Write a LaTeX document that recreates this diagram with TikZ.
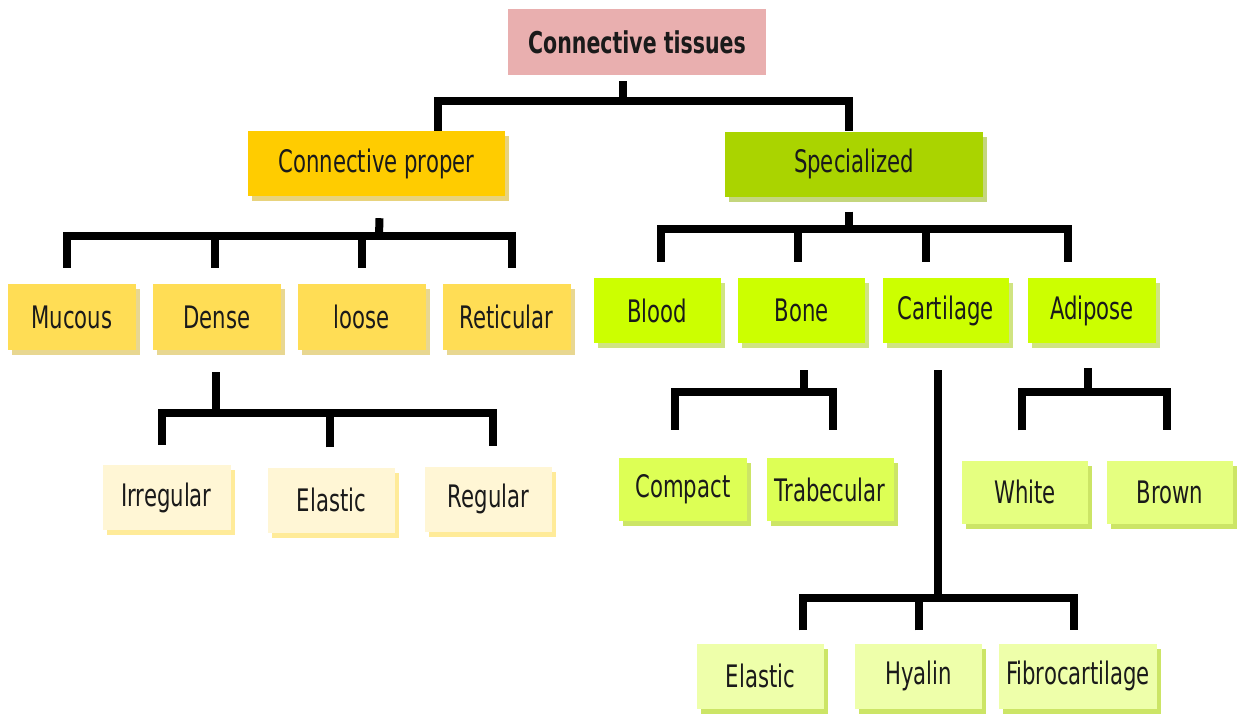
\documentclass[tikz,border=0pt]{standalone}
\usepackage{fontspec}
\setmainfont{DejaVu Sans Condensed}[FakeStretch=0.76]
\usetikzlibrary{shadows}
\definecolor{txt}{HTML}{1A1A1A}
\definecolor{rootc}{HTML}{E9AFAF}
\definecolor{lOne}{HTML}{FFCC00}
\definecolor{rOne}{HTML}{AAD400}
\definecolor{lTwo}{HTML}{FFDD55}
\definecolor{rTwo}{HTML}{CCFF00}
\definecolor{lThree}{HTML}{FFF6D5}
\definecolor{boneC}{HTML}{DDFF55}
\definecolor{adipC}{HTML}{E5FF80}
\definecolor{cartC}{HTML}{EEFFAA}
\tikzset{
  box/.style={rectangle, inner sep=0pt, text=txt, font=\fontsize{31}{36}\selectfont},
  shd/.style={general shadow={fill=#1, shadow xshift=4pt, shadow yshift=-5pt, opacity=0.6}},
  conn/.style={line width=8pt, draw=black, line join=miter, line cap=butt},
}
\begin{document}
\begin{tikzpicture}[x=1pt, y=-1pt]
\useasboundingbox (0,0) rectangle (1237,716);
% root
\node[box, fill=rootc, minimum width=258pt, minimum height=66pt, font=\fontsize{30}{36}\selectfont\bfseries] (root) at (637,42) {Connective tissues};
% level 1
\node[box, fill=lOne, shd=lOne!70!gray, minimum width=257pt, minimum height=65pt] (cp) at (376.5,163.5) {Connective proper};
\node[box, fill=rOne, shd=rOne!70!gray, minimum width=258pt, minimum height=65pt] (sp) at (854,164) {Specialized};
% level 2 left
\node[box, fill=lTwo, shd=lTwo!85!black, minimum width=128pt, minimum height=66pt] (mucous) at (72,317) {Mucous};
\node[box, fill=lTwo, shd=lTwo!85!black, minimum width=128pt, minimum height=66pt] (dense) at (217,317) {Dense};
\node[box, fill=lTwo, shd=lTwo!85!black, minimum width=128pt, minimum height=66pt] (loose) at (361.5,317) {loose};
\node[box, fill=lTwo, shd=lTwo!85!black, minimum width=128pt, minimum height=66pt] (reticular) at (506.5,317) {Reticular};
% level 2 right
\node[box, fill=rTwo, shd=rTwo!65!gray, minimum width=127pt, minimum height=65pt] (blood) at (657,310.5) {Blood};
\node[box, fill=rTwo, shd=rTwo!65!gray, minimum width=127pt, minimum height=65pt] (bone) at (801.5,310.5) {Bone};
\node[box, fill=rTwo, shd=rTwo!65!gray, minimum width=126pt, minimum height=65pt] (cartilage) at (945.5,310.5) {Cartilage};
\node[box, fill=rTwo, shd=rTwo!65!gray, minimum width=128pt, minimum height=65pt] (adipose) at (1092,310.5) {Adipose};
% level 3 dense
\node[box, fill=lThree, shd=lTwo, minimum width=128pt, minimum height=65pt] (irregular) at (166.5,497.5) {Irregular};
\node[box, fill=lThree, shd=lTwo, minimum width=127pt, minimum height=65pt] (elasticA) at (331.5,500) {Elastic};
\node[box, fill=lThree, shd=lTwo, minimum width=127pt, minimum height=65pt] (regular) at (488.5,499) {Regular};
% level 3 bone
\node[box, fill=boneC, shd=rOne, minimum width=128pt, minimum height=63pt] (compact) at (683,489.5) {Compact};
\node[box, fill=boneC, shd=rOne, minimum width=127pt, minimum height=63pt] (trabecular) at (830,489.5) {Trabecular};
% level 3 adipose
\node[box, fill=adipC, shd=rOne, minimum width=126pt, minimum height=63pt] (white) at (1025,492) {White};
\node[box, fill=adipC, shd=rOne, minimum width=126pt, minimum height=63pt] (brown) at (1170,492) {Brown};
% level 3 cartilage
\node[box, fill=cartC, shd=rOne, minimum width=127pt, minimum height=65pt] (elasticB) at (760.5,676) {Elastic};
\node[box, fill=cartC, shd=rOne, minimum width=127pt, minimum height=65pt] (hyalin) at (918.5,676) {Hyalin};
\node[box, fill=cartC, shd=rOne, minimum width=158pt, minimum height=65pt] (fibro) at (1078,676) {Fibrocartilage};
% connectors: root
\coordinate (jr) at (623,101);
\draw[conn] ([xshift=-14pt, yshift=-6pt]root.south) -- (jr);
\draw[conn] ([xshift=61pt]cp.north) |- (jr) -| ([xshift=-5pt]sp.north);
% connective proper
\coordinate (jcp) at (379,236);
\draw[conn] ([xshift=3pt, yshift=-22pt]cp.south) -- (jcp);
\draw[conn] ([xshift=-5pt, yshift=16pt]mucous.north) |- (jcp) -| ([xshift=5pt, yshift=16pt]reticular.north);
\draw[conn] ([xshift=-2pt, yshift=16pt]dense.north) -- ([xshift=-2pt]dense.north |- jcp);
\draw[conn] ([yshift=16pt]loose.north) -- (loose.north |- jcp);
% specialized
\coordinate (jsp) at (849,229);
\draw[conn] ([xshift=-5pt, yshift=-15pt]sp.south) -- (jsp);
\draw[conn] ([xshift=4pt, yshift=16pt]blood.north) |- (jsp) -| ([xshift=-24pt, yshift=16pt]adipose.north);
\draw[conn] ([xshift=-4pt, yshift=16pt]bone.north) -- ([xshift=-4pt]bone.north |- jsp);
\draw[conn] ([xshift=-20pt, yshift=16pt]cartilage.north) -- ([xshift=-20pt]cartilage.north |- jsp);
% dense
\coordinate (jd) at (216,413);
\draw[conn] ([xshift=-1pt, yshift=-22pt]dense.south) -- (jd);
\draw[conn] ([xshift=-5pt, yshift=20pt]irregular.north) |- (jd) -| ([xshift=4pt, yshift=20pt]regular.north);
\draw[conn] ([xshift=-2pt, yshift=20pt]elasticA.north) -- ([xshift=-2pt]elasticA.north |- jd);
% bone
\coordinate (jb) at (804,392);
\draw[conn] ([xshift=2.5pt, yshift=-27pt]bone.south) -- (jb);
\draw[conn] ([xshift=-8pt, yshift=28pt]compact.north) |- (jb) -| ([xshift=3pt, yshift=28pt]trabecular.north);
% adipose
\coordinate (ja) at (1088,392);
\draw[conn] ([xshift=-4pt, yshift=-25pt]adipose.south) -- (ja);
\draw[conn] ([xshift=-3pt, yshift=30pt]white.north) |- (ja) -| ([xshift=-3pt, yshift=30pt]brown.north);
% cartilage
\coordinate (jc) at (938,598);
\draw[conn] ([xshift=-7.5pt, yshift=-27pt]cartilage.south) -- (jc);
\draw[conn] ([xshift=42pt, yshift=13pt]elasticB.north) |- (jc) -| ([xshift=-4pt, yshift=13pt]fibro.north);
\draw[conn] ([yshift=13pt]hyalin.north) -- (hyalin.north |- jc);
\end{tikzpicture}
\end{document}
